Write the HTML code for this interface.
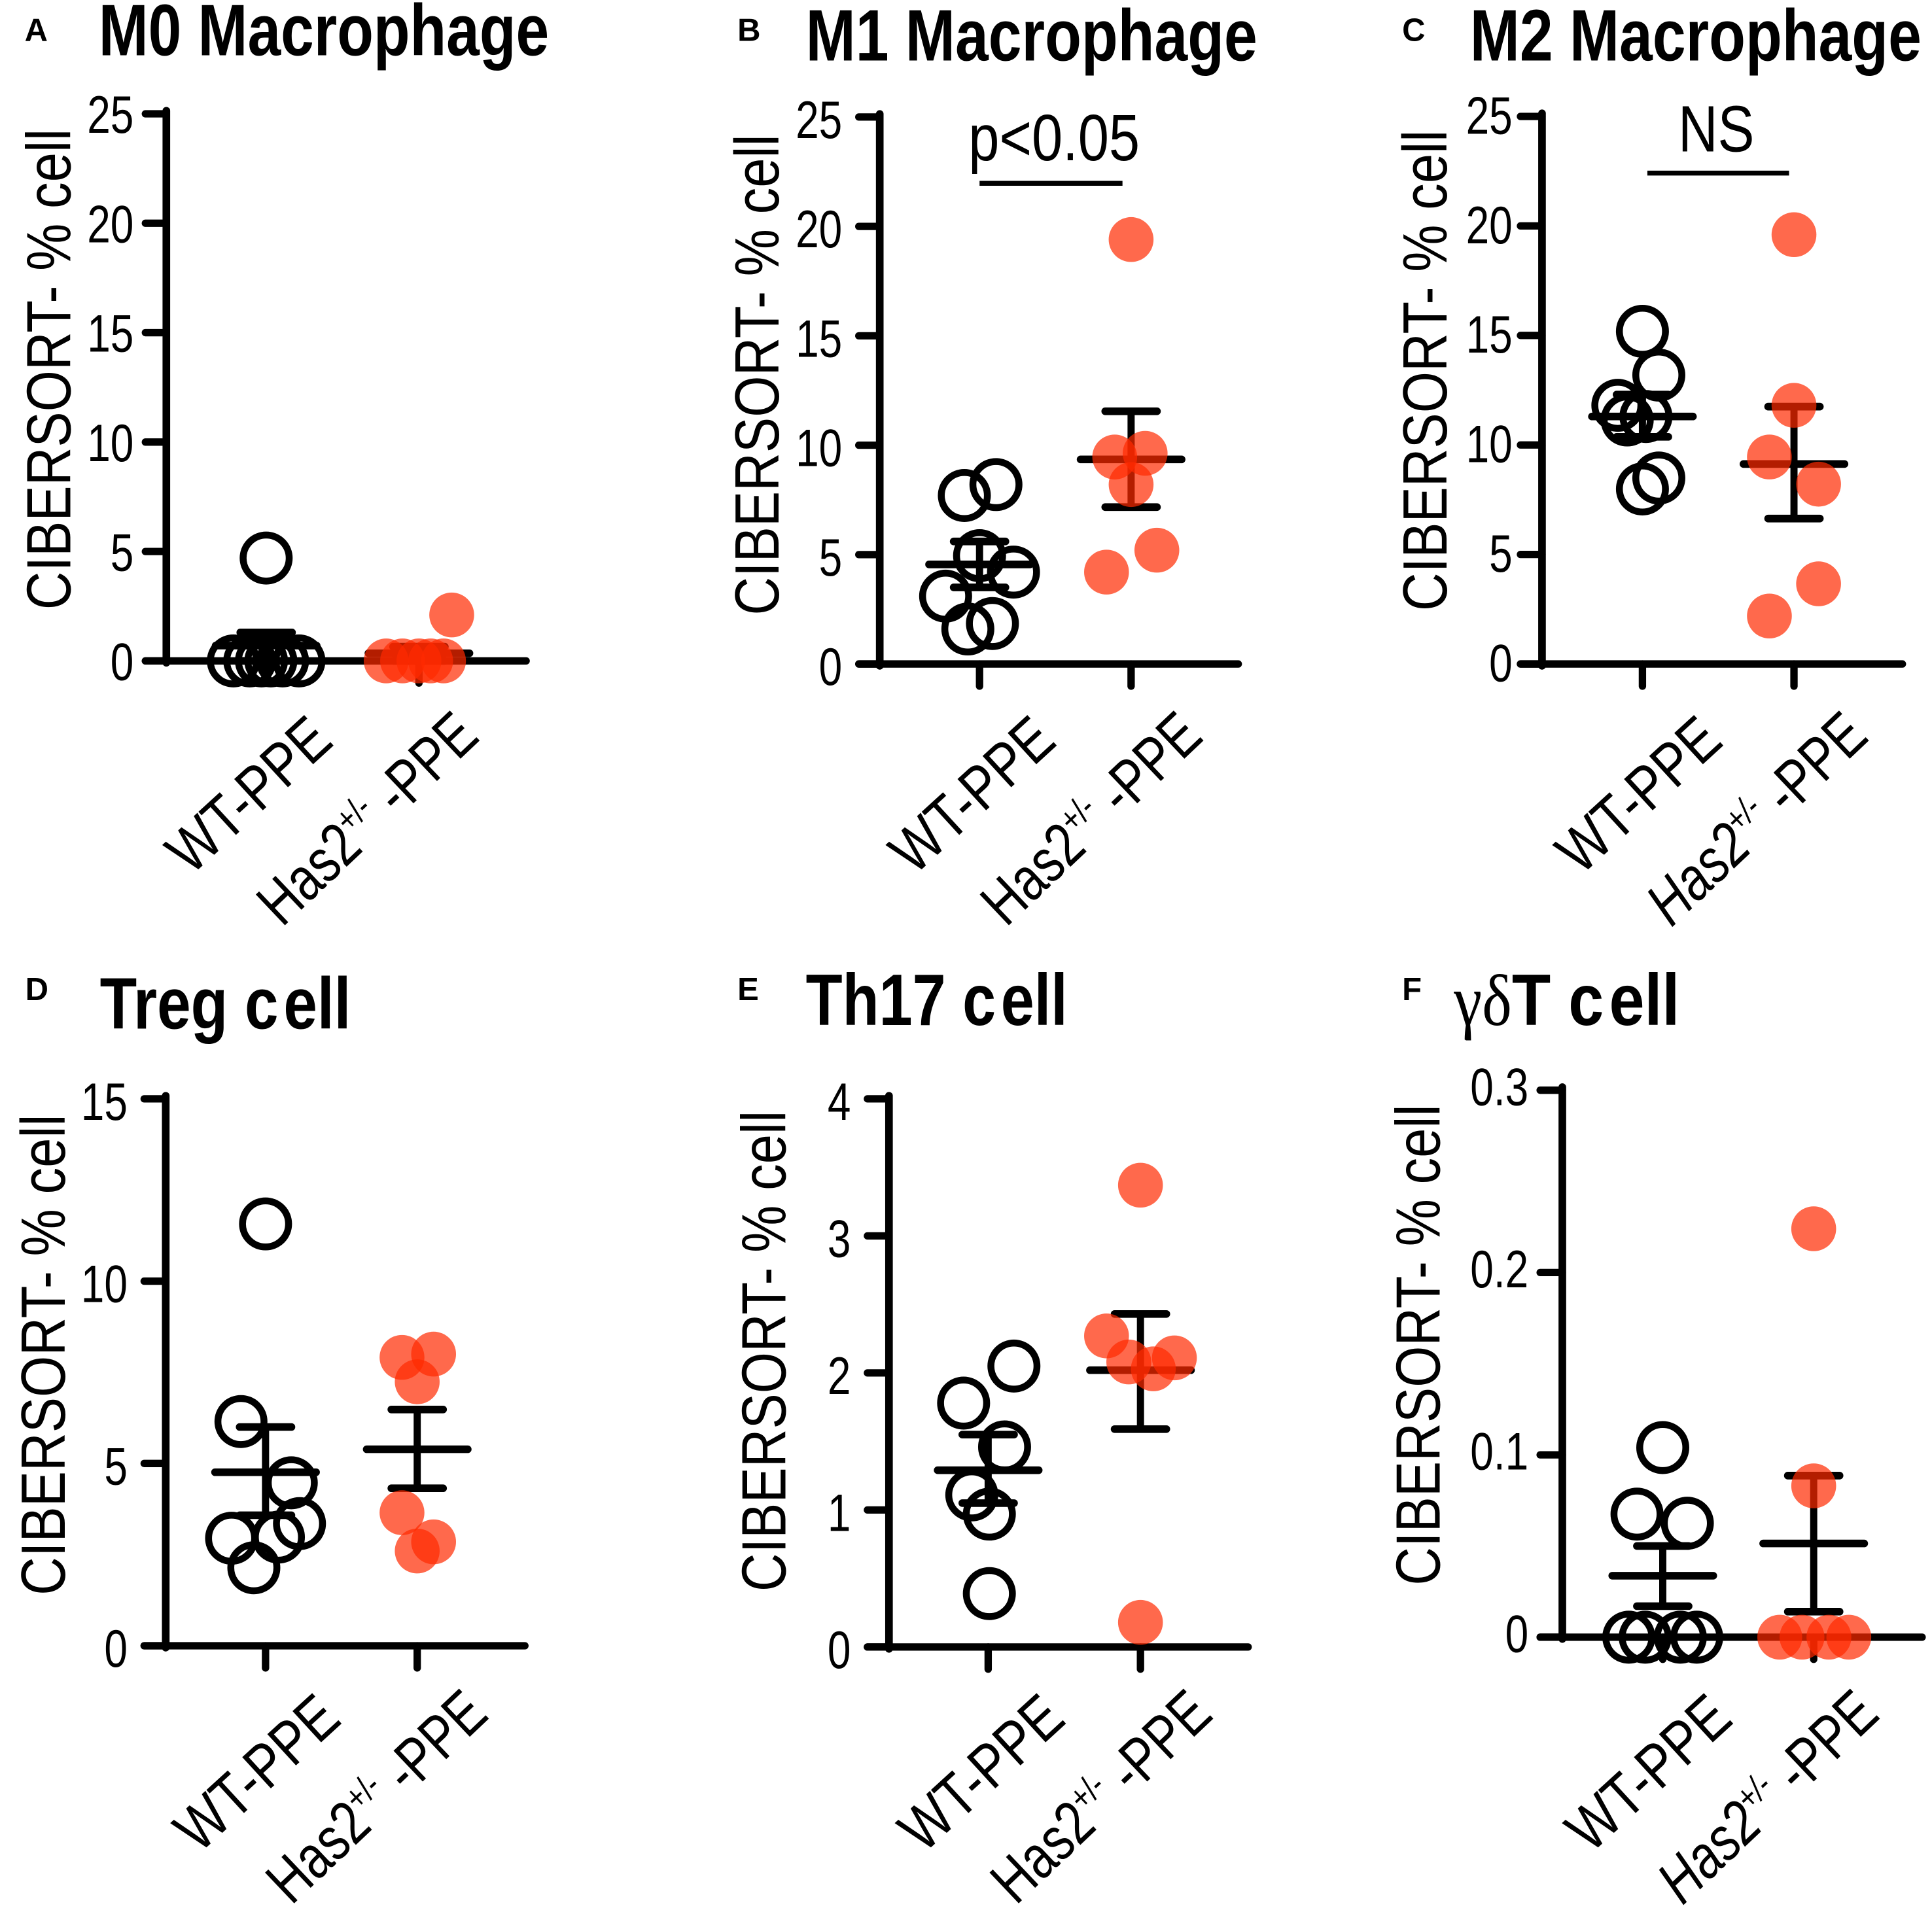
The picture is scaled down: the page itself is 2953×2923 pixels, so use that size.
<!DOCTYPE html>
<html lang="en">
<head>
<meta charset="utf-8">
<title>CIBERSORT immune cell fractions</title>
<style>
html,body{margin:0;padding:0;background:#fff;}
svg{display:block;}
text{font-family:"Liberation Sans",sans-serif;fill:#000;}
.title{font-size:59px;font-weight:700;}
.letter{font-size:26px;font-weight:700;}
.ylab{font-size:51px;}
.xlab{font-size:50px;text-anchor:end;}
.sup{font-size:29px;}
.anno{font-size:53px;}
.tick{font-size:43px;text-anchor:end;}
</style>
</head>
<body>
<svg id="fig" xmlns="http://www.w3.org/2000/svg" width="2953" height="2923" viewBox="0 0 1568 1552.1">
  <rect width="1568" height="1552.1" fill="#fff"/>

  <text class="letter" x="20" y="33.3">A</text>
  <text class="letter" x="598.5" y="33.3">B</text>
  <text class="letter" x="1138" y="33.3">C</text>
  <text class="letter" x="20.5" y="812">D</text>
  <text class="letter" x="598.5" y="812">E</text>
  <text class="letter" x="1138" y="812">F</text>

  <text class="title" transform="translate(80,44.8) scale(.82,1)">M0 Macrophage</text>
  <text class="title" transform="translate(654,49) scale(.822,1)">M1 Macrophage</text>
  <text class="title" transform="translate(1193,49) scale(.822,1)">M2 Macrophage</text>
  <text class="title" transform="translate(81,835) scale(.834,1)">Treg c<tspan dx="5">ell</tspan></text>
  <text class="title" transform="translate(654,832) scale(.825,1)">Th17 c<tspan dx="5">ell</tspan></text>
  <text class="title" transform="translate(1180,832) scale(.874,1)"><tspan style="font-family:'Liberation Serif','DejaVu Serif',serif;font-weight:400">γδ</tspan>T c<tspan dx="5">ell</tspan></text>

  <text class="ylab" transform="translate(57,495) rotate(-90) scale(.847,1)">CIBERSORT- % cell</text>
  <text class="ylab" transform="translate(632,499.5) rotate(-90) scale(.847,1)">CIBERSORT- % cell</text>
  <text class="ylab" transform="translate(1174,496) rotate(-90) scale(.847,1)">CIBERSORT- % cell</text>
  <text class="ylab" transform="translate(52.5,1295) rotate(-90) scale(.847,1)">CIBERSORT- % cell</text>
  <text class="ylab" transform="translate(637.5,1292) rotate(-90) scale(.847,1)">CIBERSORT- % cell</text>
  <text class="ylab" transform="translate(1168.5,1287) rotate(-90) scale(.847,1)">CIBERSORT- % cell</text>

  <text class="xlab" transform="translate(272,604) rotate(-42.5) scale(.83,1)">WT-PPE</text>
  <text class="xlab" transform="translate(390.5,600) rotate(-43.5) scale(.79,1)">Has2<tspan class="sup" dy="-18">+/-</tspan><tspan dy="18">&#160;-PPE</tspan></text>
  <text class="xlab" transform="translate(859,604) rotate(-42.5) scale(.83,1)">WT-PPE</text>
  <text class="xlab" transform="translate(978,600) rotate(-43.5) scale(.79,1)">Has2<tspan class="sup" dy="-18">+/-</tspan><tspan dy="18">&#160;-PPE</tspan></text>
  <text class="xlab" transform="translate(1400,604) rotate(-42.5) scale(.83,1)">WT-PPE</text>
  <text class="xlab" transform="translate(1518,600) rotate(-43.5) scale(.79,1)"><tspan font-style="italic">Has2</tspan><tspan class="sup" dy="-18" font-style="italic">+/-</tspan><tspan dy="18">&#160;-PPE</tspan></text>
  <text class="xlab" transform="translate(278.5,1398) rotate(-42.5) scale(.83,1)">WT-PPE</text>
  <text class="xlab" transform="translate(398,1394) rotate(-43.5) scale(.79,1)">Has2<tspan class="sup" dy="-18">+/-</tspan><tspan dy="18">&#160;-PPE</tspan></text>
  <text class="xlab" transform="translate(866.5,1398) rotate(-42.5) scale(.83,1)">WT-PPE</text>
  <text class="xlab" transform="translate(986,1394) rotate(-43.5) scale(.79,1)">Has2<tspan class="sup" dy="-18">+/-</tspan><tspan dy="18">&#160;-PPE</tspan></text>
  <text class="xlab" transform="translate(1408,1398) rotate(-42.5) scale(.83,1)">WT-PPE</text>
  <text class="xlab" transform="translate(1527,1394) rotate(-43.5) scale(.79,1)"><tspan font-style="italic">Has2</tspan><tspan class="sup" dy="-18" font-style="italic">+/-</tspan><tspan dy="18">&#160;-PPE</tspan></text>

  <text class="anno" transform="translate(786,130) scale(.85,1)">p&lt;0.05</text>
  <line x1="795" y1="148.8" x2="911" y2="148.8" stroke="#000" stroke-width="4"/>
  <text class="anno" transform="translate(1362,123) scale(.84,1)">NS</text>
  <line x1="1337" y1="140.5" x2="1452" y2="140.5" stroke="#000" stroke-width="4"/>
</svg>

<script>
// Axis ticks
const m0Ticks = [0, 5, 10, 15, 20, 25];
const m1Ticks = [0, 5, 10, 15, 20, 25];
const m2Ticks = [0, 5, 10, 15, 20, 25];
const tregTicks = [0, 5, 10, 15];
const th17Ticks = [0, 1, 2, 3, 4];
const gdtTicks = [0, 0.1, 0.2, 0.3];

// Values per group
const m0WtValues = [4.7, 0, 0, 0, 0, 0, 0];
const m0HasValues = [2.1, 0, 0, 0, 0, 0];
const m1WtValues = [7.7, 8.2, 4.95, 4.2, 3.1, 1.6, 1.85];
const m1HasValues = [19.4, 9.46, 9.63, 8.2, 5.2, 4.2];
const m2WtValues = [15.19, 13.19, 11.81, 11.14, 11.3, 8.49, 7.99];
const m2HasValues = [19.6, 11.81, 9.45, 8.21, 3.66, 2.19];
const tregWtValues = [11.57, 6.15, 4.47, 3.35, 2.98, 2.95, 2.14];
const tregHasValues = [7.91, 8.0, 7.24, 3.65, 2.85, 2.6];
const th17WtValues = [2.05, 1.78, 1.46, 1.11, 0.97, 0.39];
const th17HasValues = [3.37, 2.27, 2.08, 2.03, 2.11, 0.18];
const gdtWtValues = [0.104, 0.0675, 0.0625, 0, 0, 0, 0];
const gdtHasValues = [0.224, 0.083, 0, 0, 0, 0];

// Swarm slot of each point, in swarm units from the group centre
const m0WtSwarm = [0, -2.8, -1.4, -0.4, 0.4, 1.4, 2.8];
const m0HasSwarm = [2.8, -2.8, -1.4, 0, 1, 2.1];
const m1WtSwarm = [-1.3, 1.4, 0, 2.9, -2.9, -1, 1.1];
const m1HasSwarm = [0, -1.4, 1.2, 0, 2.2, -2.1];
const m2WtSwarm = [0, 1.4, -2.1, -1.3, 0.3, 1.4, 0];
const m2HasSwarm = [0, 0, -2.1, 2.1, 2.1, -2.1];
const tregWtSwarm = [0, -2.1, 2.2, 2.9, 1.1, -2.9, -1];
const tregHasSwarm = [-1.3, 1.4, 0, -1.3, 1.4, 0];
const th17WtSwarm = [2.2, -2.1, 1.4, -1.4, 0.1, 0.1];
const th17HasSwarm = [0, -2.9, -1, 1.1, 2.9, 0];
const gdtWtSwarm = [0, -2.2, 2.1, -2.9, -1.5, 1.5, 2.9];
const gdtHasSwarm = [0, 0, -2.9, -1, 1.3, 3];

// Mean, upper SEM, lower SEM
const m0WtStats = [0.7, 1.3, 0];
const m0HasStats = [0.35, 0.65, 0];
const m1WtStats = [4.55, 5.6, 3.5];
const m1HasStats = [9.35, 11.55, 7.17];
const m2WtStats = [11.3, 12.3, 10.37];
const m2HasStats = [9.13, 11.75, 6.64];
const tregWtStats = [4.76, 6.0, 3.58];
const tregHasStats = [5.39, 6.48, 4.32];
const th17WtStats = [1.29, 1.55, 1.05];
const th17HasStats = [2.02, 2.43, 1.59];
const gdtWtStats = [0.0337, 0.05, 0.017];
const gdtHasStats = [0.0514, 0.0886, 0.014];

const panels = [
  {key:'m0', ticks:m0Ticks, wt:m0WtValues, has:m0HasValues, wtSwarm:m0WtSwarm, hasSwarm:m0HasSwarm, wtStats:m0WtStats, hasStats:m0HasStats,
   axisX:135, y0:536.5, yTop:92.4, xLeft:118, xEnd:427, wtX:216, hasX:340, labelEnd:108.5, labelDy:15.5},
  {key:'m1', ticks:m1Ticks, wt:m1WtValues, has:m1HasValues, wtSwarm:m1WtSwarm, hasSwarm:m1HasSwarm, wtStats:m1WtStats, hasStats:m1HasStats,
   axisX:714, y0:539, yTop:95, xLeft:697, xEnd:1005, wtX:795, hasX:918, labelEnd:683.5, labelDy:17},
  {key:'m2', ticks:m2Ticks, wt:m2WtValues, has:m2HasValues, wtSwarm:m2WtSwarm, hasSwarm:m2HasSwarm, wtStats:m2WtStats, hasStats:m2HasStats,
   axisX:1251.5, y0:539, yTop:94.5, xLeft:1234, xEnd:1544, wtX:1333, hasX:1456, labelEnd:1227.5, labelDy:14},
  {key:'treg', ticks:tregTicks, wt:tregWtValues, has:tregHasValues, wtSwarm:tregWtSwarm, hasSwarm:tregHasSwarm, wtStats:tregWtStats, hasStats:tregHasStats,
   axisX:134.5, y0:1336, yTop:892, xLeft:117, xEnd:426, wtX:215.5, hasX:338.6, labelEnd:103.5, labelDy:17},
  {key:'th17', ticks:th17Ticks, wt:th17WtValues, has:th17HasValues, wtSwarm:th17WtSwarm, hasSwarm:th17HasSwarm, wtStats:th17WtStats, hasStats:th17HasStats,
   axisX:721.5, y0:1337, yTop:892, xLeft:704, xEnd:1013, wtX:802, hasX:925.6, labelEnd:690.5, labelDy:17},
  {key:'gamma-delta-t', ticks:gdtTicks, wt:gdtWtValues, has:gdtHasValues, wtSwarm:gdtWtSwarm, hasSwarm:gdtHasSwarm, wtStats:gdtWtStats, hasStats:gdtHasStats,
   axisX:1268, y0:1329, yTop:885, xLeft:1250, xEnd:1560, wtX:1349.5, hasX:1472, labelEnd:1240.5, labelDy:12}
];

const SWARM_UNIT = 9.5;
const MEAN_HALF = 41;
const CAP_HALF = 21;
const fig = document.getElementById('fig');
const NS = 'http://www.w3.org/2000/svg';

function mk(tag, props, parent) {
  const node = document.createElementNS(NS, tag);
  for (const k in props) node.setAttribute(k, props[k]);
  parent.appendChild(node);
  return node;
}
function blackLine(x1, y1, x2, y2, width, cap, parent) {
  return mk('line', {x1:x1, y1:y1, x2:x2, y2:y2, stroke:'#000', 'stroke-width':width, 'stroke-linecap':cap}, parent);
}

function drawErrorBars(cx, stats, y, prefix, g) {
  const mean = blackLine(cx - MEAN_HALF, y(stats[0]), cx + MEAN_HALF, y(stats[0]), 6.2, 'round', g);
  
  
  const stem = blackLine(cx, y(stats[1]), cx, y(stats[2]), 5.8, 'butt', g);
  
  
  const top = blackLine(cx - CAP_HALF, y(stats[1]), cx + CAP_HALF, y(stats[1]), 6.2, 'round', g);
  
  
  const low = blackLine(cx - CAP_HALF, y(stats[2]), cx + CAP_HALF, y(stats[2]), 6.2, 'round', g);
  
  
}

panels.forEach(function (p) {
  const g = mk('g', {}, fig);
  
  

  const maxTick = p.ticks[p.ticks.length - 1];
  const y = function (v) { return p.y0 - v * (p.y0 - p.yTop) / maxTick; };
  const xWt = function (s) { return p.wtX + s * SWARM_UNIT; };
  const xHas = function (s) { return p.hasX + s * SWARM_UNIT; };

  const yAxis = blackLine(p.axisX, p.yTop - 2.5, p.axisX, p.y0 + 1.5, 6.2, 'round', g);
  
  

  const xAxis = blackLine(p.xLeft, p.y0, p.xEnd, p.y0, 6, 'round', g);
  
  

  [p.wtX, p.hasX].forEach(function (cx) {
    const xt = blackLine(cx, p.y0, cx, p.y0 + 18, 6, 'round', g);
    
    
  });

  p.ticks.forEach(function (t) {
    const tickMark = blackLine(p.xLeft, y(t), p.axisX, y(t), 6, 'round', g);
    
    
    const label = mk('text', {'class':'tick', transform:'translate(' + p.labelEnd + ',' + (y(t) + p.labelDy) + ') scale(.79,1)'}, g);
    label.textContent = String(t);
    
    
  });

  drawErrorBars(p.wtX, p.wtStats, y, 'wt-' + p.key, g);
  drawErrorBars(p.hasX, p.hasStats, y, 'has2-' + p.key, g);

  p.wt.forEach(function (v, i) {
    const ring = mk('circle', {cx:xWt(p.wtSwarm[i]), cy:y(v), r:18.7, fill:'none', stroke:'#000', 'stroke-width':5.6}, g);
    
    
  });
  p.has.forEach(function (v, i) {
    const dot = mk('circle', {cx:xHas(p.hasSwarm[i]), cy:y(v), r:18.2, fill:'rgb(255,42,0)', 'fill-opacity':0.7}, g);
    
    
  });
});
</script>
</body>
</html>
